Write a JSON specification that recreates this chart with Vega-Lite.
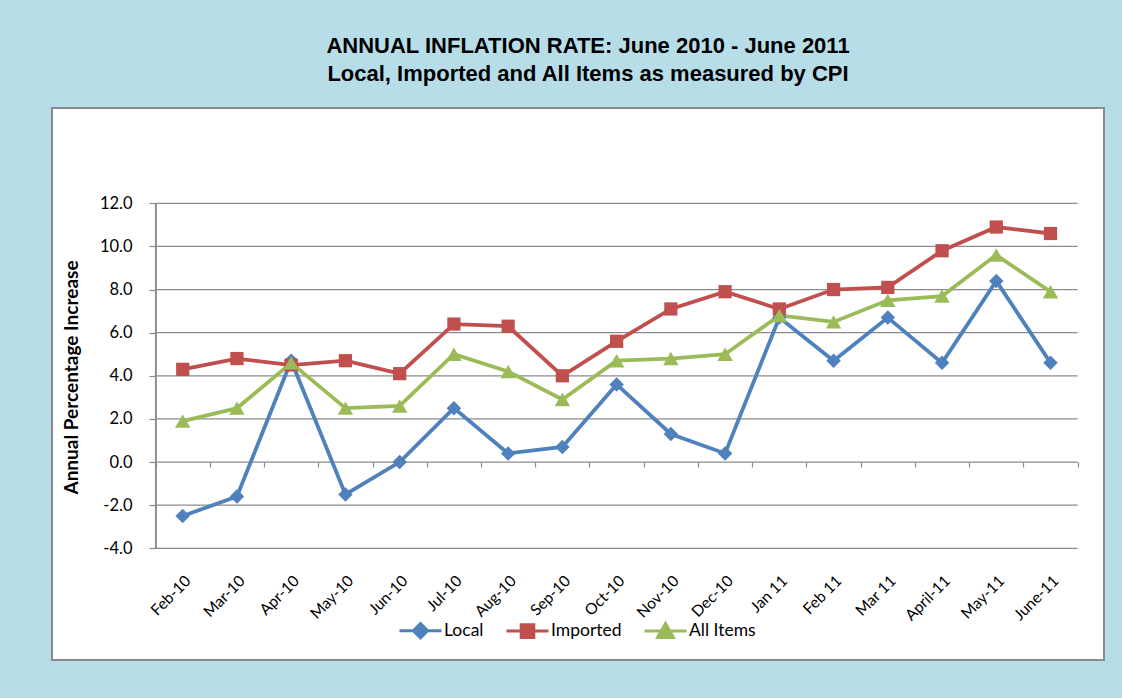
{
  "$schema": "https://vega.github.io/schema/vega-lite/v6.json",
  "width": 1052,
  "height": 552,
  "autosize": "none",
  "padding": {"left": 52, "top": 108, "right": 18, "bottom": 38},
  "background": "#B7DEE8",
  "config": {
    "view": {"fill": "white", "stroke": "#8a8a8a", "strokeWidth": 2},
    "font": "Lato",
    "axis": {"labelFont": "Lato", "labelColor": "#000000", "titleColor": "#000000"}
  },
  "title": {
    "text": ["ANNUAL INFLATION RATE: June 2010 - June 2011", "Local, Imported and All Items as measured by CPI"],
    "font": "Liberation Sans",
    "fontSize": 22,
    "fontWeight": "bold",
    "lineHeight": 28,
    "color": "#000000",
    "anchor": "middle",
    "frame": "group",
    "dx": 10,
    "offset": 22
  },
  "datasets": {
    "grid": [{"v": -4}, {"v": -2}, {"v": 0}, {"v": 2}, {"v": 4}, {"v": 6}, {"v": 8}, {"v": 10}, {"v": 12}],
    "series": [
      {"i": 0, "month": "Feb-10", "series": "Local", "value": -2.5},
      {"i": 1, "month": "Mar-10", "series": "Local", "value": -1.6},
      {"i": 2, "month": "Apr-10", "series": "Local", "value": 4.7},
      {"i": 3, "month": "May-10", "series": "Local", "value": -1.5},
      {"i": 4, "month": "Jun-10", "series": "Local", "value": 0.0},
      {"i": 5, "month": "Jul-10", "series": "Local", "value": 2.5},
      {"i": 6, "month": "Aug-10", "series": "Local", "value": 0.4},
      {"i": 7, "month": "Sep-10", "series": "Local", "value": 0.7},
      {"i": 8, "month": "Oct-10", "series": "Local", "value": 3.6},
      {"i": 9, "month": "Nov-10", "series": "Local", "value": 1.3},
      {"i": 10, "month": "Dec-10", "series": "Local", "value": 0.4},
      {"i": 11, "month": "Jan 11", "series": "Local", "value": 6.7},
      {"i": 12, "month": "Feb 11", "series": "Local", "value": 4.7},
      {"i": 13, "month": "Mar 11", "series": "Local", "value": 6.7},
      {"i": 14, "month": "April-11", "series": "Local", "value": 4.6},
      {"i": 15, "month": "May-11", "series": "Local", "value": 8.4},
      {"i": 16, "month": "June-11", "series": "Local", "value": 4.6},
      {"i": 0, "month": "Feb-10", "series": "Imported", "value": 4.3},
      {"i": 1, "month": "Mar-10", "series": "Imported", "value": 4.8},
      {"i": 2, "month": "Apr-10", "series": "Imported", "value": 4.5},
      {"i": 3, "month": "May-10", "series": "Imported", "value": 4.7},
      {"i": 4, "month": "Jun-10", "series": "Imported", "value": 4.1},
      {"i": 5, "month": "Jul-10", "series": "Imported", "value": 6.4},
      {"i": 6, "month": "Aug-10", "series": "Imported", "value": 6.3},
      {"i": 7, "month": "Sep-10", "series": "Imported", "value": 4.0},
      {"i": 8, "month": "Oct-10", "series": "Imported", "value": 5.6},
      {"i": 9, "month": "Nov-10", "series": "Imported", "value": 7.1},
      {"i": 10, "month": "Dec-10", "series": "Imported", "value": 7.9},
      {"i": 11, "month": "Jan 11", "series": "Imported", "value": 7.1},
      {"i": 12, "month": "Feb 11", "series": "Imported", "value": 8.0},
      {"i": 13, "month": "Mar 11", "series": "Imported", "value": 8.1},
      {"i": 14, "month": "April-11", "series": "Imported", "value": 9.8},
      {"i": 15, "month": "May-11", "series": "Imported", "value": 10.9},
      {"i": 16, "month": "June-11", "series": "Imported", "value": 10.6},
      {"i": 0, "month": "Feb-10", "series": "All Items", "value": 1.9},
      {"i": 1, "month": "Mar-10", "series": "All Items", "value": 2.5},
      {"i": 2, "month": "Apr-10", "series": "All Items", "value": 4.6},
      {"i": 3, "month": "May-10", "series": "All Items", "value": 2.5},
      {"i": 4, "month": "Jun-10", "series": "All Items", "value": 2.6},
      {"i": 5, "month": "Jul-10", "series": "All Items", "value": 5.0},
      {"i": 6, "month": "Aug-10", "series": "All Items", "value": 4.2},
      {"i": 7, "month": "Sep-10", "series": "All Items", "value": 2.9},
      {"i": 8, "month": "Oct-10", "series": "All Items", "value": 4.7},
      {"i": 9, "month": "Nov-10", "series": "All Items", "value": 4.8},
      {"i": 10, "month": "Dec-10", "series": "All Items", "value": 5.0},
      {"i": 11, "month": "Jan 11", "series": "All Items", "value": 6.8},
      {"i": 12, "month": "Feb 11", "series": "All Items", "value": 6.5},
      {"i": 13, "month": "Mar 11", "series": "All Items", "value": 7.5},
      {"i": 14, "month": "April-11", "series": "All Items", "value": 7.7},
      {"i": 15, "month": "May-11", "series": "All Items", "value": 9.6},
      {"i": 16, "month": "June-11", "series": "All Items", "value": 7.9}
    ]
  },
  "layer": [
    {
      "data": {"name": "grid"},
      "mark": {"type": "rule", "color": "#8c8c8c", "strokeWidth": 1.2},
      "encoding": {
        "y": {
          "field": "v", "type": "quantitative",
          "scale": {"domain": [-9.18, 16.42], "nice": false, "zero": false},
          "title": "Annual Percentage Increase",
          "axis": {
            "values": [-4, -2, 0, 2, 4, 6, 8, 10, 12],
            "labelExpr": "datum.value < 0 ? '-' + format(-datum.value, '.1f') : format(datum.value, '.1f')",
            "offset": -103,
            "domain": false,
            "grid": false,
            "ticks": true,
            "tickSize": 6,
            "tickColor": "#8c8c8c",
            "tickWidth": 1.2,
            "labelPadding": 17,
            "labelFontSize": 16.5,
            "labelFont": "Lato",
            "labelAlign": "right",
            "labelBaseline": "middle",
            "titleFont": "Lato",
            "titleFontSize": 19,
            "titleFontWeight": "bold",
            "titlePadding": 18,
            "titleY": 269
          }
        },
        "x": {
          "datum": -0.5, "type": "quantitative",
          "scale": {"domain": [-2.41, 16.986], "nice": false, "zero": false},
          "axis": {
            "orient": "top",
            "values": [-0.5, 0.5, 1.5, 2.5, 3.5, 4.5, 5.5, 6.5, 7.5, 8.5, 9.5, 10.5, 11.5, 12.5, 13.5, 14.5, 15.5, 16.5],
            "offset": -354,
            "labels": false,
            "domain": false,
            "grid": false,
            "ticks": true,
            "tickSize": -5,
            "tickColor": "#8c8c8c",
            "tickWidth": 1.2,
            "title": null
          }
        },
        "x2": {"datum": 16.5}
      }
    },
    {
      "data": {"name": "grid"},
      "mark": {"type": "rule", "color": "#8c8c8c", "strokeWidth": 1.2},
      "encoding": {
        "x": {"datum": -0.5, "type": "quantitative", "scale": {"domain": [-2.41, 16.986], "nice": false, "zero": false}, "axis": null},
        "y": {"datum": -4, "type": "quantitative", "scale": {"domain": [-9.18, 16.42], "nice": false, "zero": false}, "title": "Annual Percentage Increase"},
        "y2": {"datum": 12}
      }
    },
    {
      "data": {"name": "series"},
      "mark": {"type": "line", "strokeWidth": 3.8},
      "encoding": {
        "x": {
          "field": "i", "type": "quantitative",
          "scale": {"domain": [-2.41, 16.986], "nice": false, "zero": false},
          "axis": {
            "orient": "bottom",
            "values": [0, 1, 2, 3, 4, 5, 6, 7, 8, 9, 10, 11, 12, 13, 14, 15, 16],
            "labelExpr": "['Feb-10','Mar-10','Apr-10','May-10','Jun-10','Jul-10','Aug-10','Sep-10','Oct-10','Nov-10','Dec-10','Jan 11','Feb 11','Mar 11','April-11','May-11','June-11'][datum.value]",
            "offset": -87,
            "domain": false,
            "grid": false,
            "ticks": false,
            "tickSize": 0,
            "labelPadding": 0,
            "labelAngle": -45,
            "labelAlign": "right",
            "labelBaseline": "top",
            "labelFontSize": 15.5,
            "labelFont": "Lato",
            "labelOverlap": false,
            "labelBound": false,
            "labelFlush": false,
            "title": null
          }
        },
        "y": {"field": "value", "type": "quantitative", "scale": {"domain": [-9.18, 16.42], "nice": false, "zero": false}, "title": "Annual Percentage Increase"},
        "color": {
          "field": "series", "type": "nominal",
          "scale": {"domain": ["Local", "Imported", "All Items"], "range": ["#4F81BD", "#C0504D", "#9BBB59"]},
          "legend": {
            "orient": "none",
            "direction": "horizontal",
            "legendX": 346,
            "legendY": 500,
            "title": null,
            "padding": 0,
            "symbolSize": 1764,
            "symbolStrokeWidth": 3,
            "labelFont": "Lato",
            "labelFontSize": 17.5,
            "labelColor": "#000000",
            "labelOffset": 1,
            "columnPadding": 16,
            "encode": {
              "symbols": {
                "update": {
                  "shape": {"signal": "datum.value === 'Local' ? 'M-1,0L1,0M0,-0.34L0.34,0L0,0.34L-0.34,0Z' : datum.value === 'Imported' ? 'M-1,0L1,0M-0.3,-0.3L0.3,-0.3L0.3,0.3L-0.3,0.3Z' : 'M-1,0L1,0M0,-0.36L0.38,0.3L-0.38,0.3Z'"},
                  "fill": {"signal": "datum.value === 'Local' ? '#4F81BD' : datum.value === 'Imported' ? '#C0504D' : '#9BBB59'"},
                  "stroke": {"signal": "datum.value === 'Local' ? '#4F81BD' : datum.value === 'Imported' ? '#C0504D' : '#9BBB59'"},
                  "strokeWidth": {"value": 3},
                  "fillOpacity": {"value": 1},
                  "opacity": {"value": 1}
                }
              }
            }
          }
        }
      }
    },
    {
      "data": {"name": "series"},
      "transform": [{"filter": "datum.series === 'Local'"}],
      "mark": {"type": "point", "shape": "diamond", "filled": true, "size": 210, "color": "#4F81BD", "opacity": 1},
      "encoding": {
        "x": {"field": "i", "type": "quantitative", "scale": {"domain": [-2.41, 16.986], "nice": false, "zero": false}, "axis": null},
        "y": {"field": "value", "type": "quantitative", "scale": {"domain": [-9.18, 16.42], "nice": false, "zero": false}, "title": "Annual Percentage Increase"}
      }
    },
    {
      "data": {"name": "series"},
      "transform": [{"filter": "datum.series === 'Imported'"}],
      "mark": {"type": "point", "shape": "square", "filled": true, "size": 175, "color": "#C0504D", "opacity": 1},
      "encoding": {
        "x": {"field": "i", "type": "quantitative", "scale": {"domain": [-2.41, 16.986], "nice": false, "zero": false}, "axis": null},
        "y": {"field": "value", "type": "quantitative", "scale": {"domain": [-9.18, 16.42], "nice": false, "zero": false}, "title": "Annual Percentage Increase"}
      }
    },
    {
      "data": {"name": "series"},
      "transform": [{"filter": "datum.series === 'All Items'"}],
      "mark": {"type": "point", "shape": "triangle-up", "filled": true, "size": 240, "color": "#9BBB59", "opacity": 1},
      "encoding": {
        "x": {"field": "i", "type": "quantitative", "scale": {"domain": [-2.41, 16.986], "nice": false, "zero": false}, "axis": null},
        "y": {"field": "value", "type": "quantitative", "scale": {"domain": [-9.18, 16.42], "nice": false, "zero": false}, "title": "Annual Percentage Increase"}
      }
    }
  ],
  "resolve": {"axis": {"x": "independent"}}
}
